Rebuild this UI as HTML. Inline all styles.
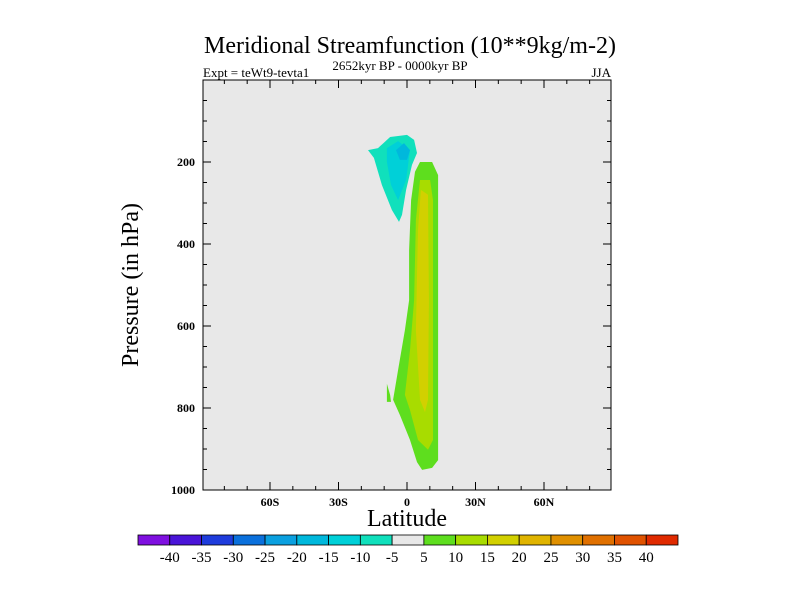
<!DOCTYPE html>
<html><head><meta charset="utf-8"><style>
body{margin:0;background:#fff;}
svg text{font-family:"Liberation Serif",serif;}
</style></head><body>
<svg id="c" width="800" height="600" xmlns="http://www.w3.org/2000/svg">
<text x="410" y="53" font-size="24" text-anchor="middle">Meridional Streamfunction (10**9kg/m-2)</text>
<text x="400" y="70" font-size="13" text-anchor="middle">2652kyr BP - 0000kyr BP</text>
<text x="203" y="77" font-size="13">Expt = teWt9-tevta1</text>
<text x="611" y="77" font-size="13" text-anchor="end">JJA</text>
<rect x="203" y="80" width="408" height="410" fill="#e8e8e8"/>
<g id="contours"></g>
<g id="axes"></g>
<text transform="translate(138,285) rotate(-90)" font-size="24" text-anchor="middle">Pressure (in hPa)</text>
<text x="407" y="526" font-size="24" text-anchor="middle">Latitude</text>
<g id="cbar"></g>
</svg>
<script>
const levelColors=["#7f10e0","#4a14d8","#1e3cdc","#0a70dc","#0aa0e0","#00b8dc","#00d0d8","#10e0bc","#e8e8e8","#5ede1e","#a8dc00","#d2d000","#e0b400","#e09000","#e07000","#e05200","#e02a00"];
const levelLabels=["-40","-35","-30","-25","-20","-15","-10","-5","5","10","15","20","25","30","35","40"];
const yTicks=[200,400,600,800,1000];
const xTicks=[-60,-30,0,30,60];
const xTickLabels=["60S","30S","0","30N","60N"];
// contour polygons [lat, pressure]
const negOuter=[[-17.1,171],[-12.7,166],[-7.4,139],[0,134],[3.1,146],[4.4,178],[2.2,207],[-0.4,268],[-2.2,329],[-3.5,346],[-6.6,317],[-11,256],[-14.5,190]];
const negMid=[[-8.8,166],[-3.9,149],[1.3,171],[-0.4,244],[-3.9,293],[-7,256],[-8.8,200]];
const negCore=[[-4.8,171],[-1.3,154],[1.3,171],[0,195],[-3.1,195]];
const posOuter=[[5.7,200],[11,200],[13.6,232],[13.6,927],[11,946],[6.6,951],[4.4,932],[1.3,878],[-3.1,817],[-6.1,780],[-3.9,707],[-0.9,610],[0.9,537],[0.9,415],[1.8,293],[3.5,224]];
const posSliver=[[-8.8,741],[-7.4,768],[-7,785],[-8.8,785]];
const posMid=[[5.7,244],[10.1,244],[11.4,293],[11.4,878],[9.2,902],[4.8,878],[1.3,805],[-0.9,768],[1.3,659],[3.1,537],[3.9,341]];
const posCore=[[6.1,268],[9.2,280],[9.6,537],[9.2,780],[7.9,810],[5.7,780],[3.9,610],[4.8,366]];

const NS="http://www.w3.org/2000/svg";
const X0=203,X1=611,Y0=80,Y1=490;
function xs(lat){return 407+lat*(X1-X0)/178.7;}
function ys(p){return Y0+p*(Y1-Y0)/1000;}
function mk(t,a,parent){const e=document.createElementNS(NS,t);for(const k in a)e.setAttribute(k,a[k]);parent.appendChild(e);return e;}
const cg=document.getElementById('contours');
[[negOuter,levelColors[7],'contour-neg-5'],[negMid,levelColors[6],'contour-neg-10'],[negCore,levelColors[5],'contour-neg-15'],
 [posOuter,levelColors[9],'contour-pos-5'],[posSliver,levelColors[9],'contour-pos-5-sliver'],[posMid,levelColors[10],'contour-pos-10'],[posCore,levelColors[11],'contour-pos-15']].forEach(([poly,col,name])=>{
  const e=mk('polygon',{points:poly.map(p=>xs(p[0]).toFixed(1)+','+ys(p[1]).toFixed(1)).join(' '),fill:col},cg);
  
  
});
const ag=document.getElementById('axes');
const fr=mk('rect',{x:X0,y:Y0,width:X1-X0,height:Y1-Y0,fill:'none',stroke:'#000','stroke-width':1},ag);


for(let p=50;p<=1000;p+=50){const y=ys(p);const L=(p%200===0)?8:4;
  mk('line',{x1:X0,x2:X0+L,y1:y,y2:y,stroke:'#000'},ag);mk('line',{x1:X1,x2:X1-L,y1:y,y2:y,stroke:'#000'},ag);}
yTicks.forEach(p=>{const t=mk('text',{x:X0-8,y:ys(p)+4,'font-size':12,'text-anchor':'end','font-weight':'bold'},ag);t.textContent=p;
  
  });
for(let l=-90;l<=90;l+=10){const x=xs(l);if(x<X0||x>X1)continue;const L=(l%30===0)?8:4;
  mk('line',{x1:x,x2:x,y1:Y1,y2:Y1-L,stroke:'#000'},ag);mk('line',{x1:x,x2:x,y1:Y0,y2:Y0+L,stroke:'#000'},ag);}
xTicks.forEach((l,i)=>{const t=mk('text',{x:xs(l),y:Y1+16,'font-size':12,'text-anchor':'middle','font-weight':'bold'},ag);t.textContent=xTickLabels[i];
  
  });
const bg=document.getElementById('cbar');
const bx0=138,bx1=678,bw=(bx1-bx0)/levelColors.length;
levelColors.forEach((c,i)=>{const r=mk('rect',{x:bx0+i*bw,y:535,width:bw,height:10,fill:c,stroke:'#000','stroke-width':0.8},bg);
  
  });
levelLabels.forEach((s,i)=>{const t=mk('text',{x:bx0+(i+1)*bw,y:562,'font-size':15,'text-anchor':'middle'},bg);t.textContent=s;
  
  });
</script>
</body></html>
